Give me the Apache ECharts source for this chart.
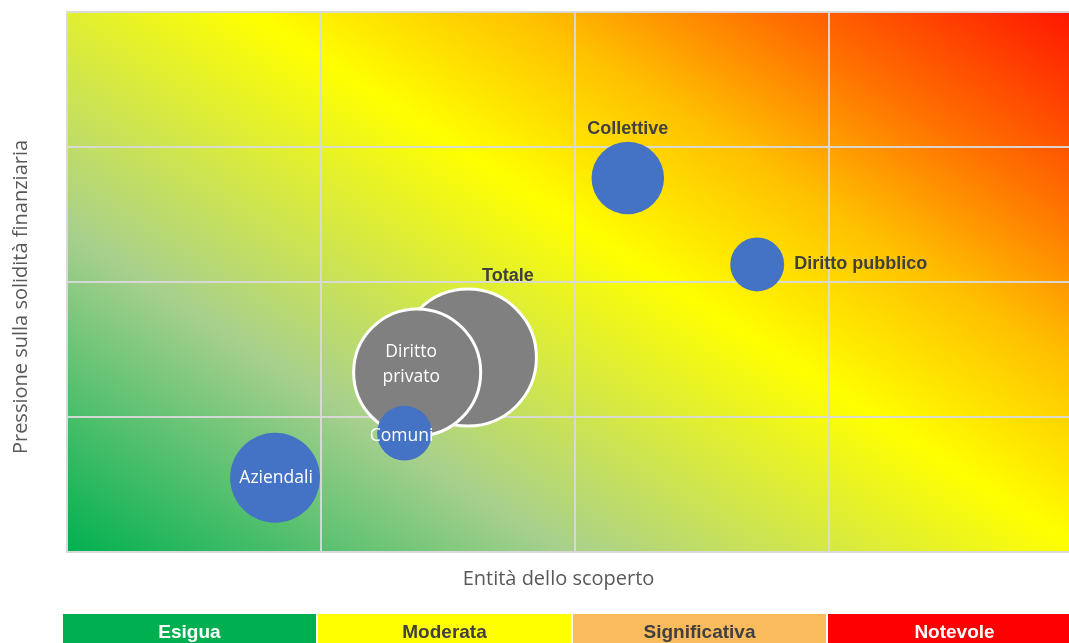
<!DOCTYPE html>
<html>
<head>
<meta charset="utf-8">
<script src="https://cdn.jsdelivr.net/npm/echarts@6/dist/echarts.min.js"></script>
<style>
  html, body { margin: 0; padding: 0; background: #fff; overflow: hidden; }
  /* il grafico originale è tagliato a destra e in basso */
  #chart { width: 1082px; height: 652px; }
</style>
</head>
<body>
<div id="chart"></div>
<script>
// dati
const grigi = ['Totale', 'Diritto privato']
const grigiX = [1.58, 1.38]
const grigiY = [1.44, 1.33]
const grigiVol = [100, 86]

const blu = ['Comuni', 'Aziendali', 'Collettive', 'Diritto pubblico']
const bluX = [1.33, 0.82, 2.21, 2.72]
const bluY = [0.88, 0.55, 2.77, 2.13]
const bluVol = [16, 43, 28, 15.5]

const livelli = ['Esigua', 'Moderata', 'Significativa', 'Notevole']
const livelliVal = [1, 1, 1, 1]

const livelliColori = ['#00B050', '#FFFF00', '#FABB5C', '#FF0000']
const livelliTesto = ['#ffffff', '#404040', '#404040', '#ffffff']

const boldFont = "'Liberation Sans', Arial, sans-serif"
const testoFont = "'Open Sans', 'Noto Sans', sans-serif"

// posizione etichette per bolla
const etichette = {
  'Totale': { position: 'top', offset: [40, 2], color: '#404040', fontWeight: 'bold', fontFamily: boldFont, fontSize: 18 },
  'Diritto privato': { position: 'inside', offset: [-6, -8], color: '#fff', fontFamily: testoFont, fontSize: 17.5, lineHeight: 25,
    formatter: () => 'Diritto\nprivato' },
  'Comuni': { position: 'inside', offset: [-3, 3], color: '#fff', fontFamily: testoFont, fontSize: 17.5 },
  'Aziendali': { position: 'inside', offset: [1, 0], color: '#fff', fontFamily: testoFont, fontSize: 17.5 },
  'Collettive': { position: 'top', distance: 4, color: '#404040', fontWeight: 'bold', fontFamily: boldFont, fontSize: 18 },
  'Diritto pubblico': { position: 'right', distance: 10, color: '#404040', fontWeight: 'bold', fontFamily: boldFont, fontSize: 18 }
}

function size(v) {
  return 137 * Math.sqrt(v / 100)
}

function punti(nomi, xs, ys, vols) {
  return nomi.map((n, i) => ({
    name: n,
    value: [xs[i], ys[i], vols[i]],
    label: Object.assign({ show: true, formatter: '{b}' }, etichette[n])
  }))
}

const chart = echarts.init(document.getElementById('chart'))

const sfondo = new echarts.graphic.LinearGradient(0, 1, 0.536, -0.561, [
  { offset: 0, color: '#00B050' },
  { offset: 0.27, color: '#A8D08D' },
  { offset: 0.55, color: '#FFFF00' },
  { offset: 0.7, color: '#FFC000' },
  { offset: 0.83, color: '#FF7000' },
  { offset: 1, color: '#FF1400' }
])

const linee = { color: 'rgba(217,217,217,0.95)', width: 2 }

const option = {
  animation: false,
  grid: [
    { left: 67, top: 12, right: 0, height: 540, show: true, backgroundColor: sfondo, borderWidth: 0 },
    { left: 62, top: 614, right: 0, height: 37 }
  ],
  xAxis: [
    {
      gridIndex: 0, type: 'value', min: 0, max: 4, interval: 1,
      name: 'Entità dello scoperto', nameLocation: 'middle', nameGap: 17,
      nameTextStyle: { color: '#595959', fontSize: 20, fontFamily: testoFont, padding: [0, 32, 0, 0] },
      axisLine: { show: true, lineStyle: linee },
      axisTick: { show: false }, axisLabel: { show: false },
      splitLine: { show: true, lineStyle: linee }
    },
    { gridIndex: 1, type: 'category', data: livelli, show: false }
  ],
  yAxis: [
    {
      gridIndex: 0, type: 'value', min: 0, max: 4, interval: 1,
      name: 'Pressione sulla solidità finanziaria', nameLocation: 'middle', nameGap: 36,
      nameTextStyle: { color: '#595959', fontSize: 20, fontFamily: testoFont, padding: [0, 30, 0, 0] },
      axisLine: { show: true, lineStyle: linee },
      axisTick: { show: false }, axisLabel: { show: false },
      splitLine: { show: true, lineStyle: linee }
    },
    { gridIndex: 1, type: 'value', min: 0, max: 1, show: false }
  ],
  series: [
    {
      name: 'Totali',
      type: 'scatter',
      xAxisIndex: 0, yAxisIndex: 0,
      data: punti(grigi, grigiX, grigiY, grigiVol),
      symbolSize: (val) => size(val[2]),
      itemStyle: { color: '#808080', borderColor: '#ffffff', borderWidth: 3, opacity: 1 }
    },
    {
      name: 'Settori',
      type: 'scatter',
      xAxisIndex: 0, yAxisIndex: 0,
      data: punti(blu, bluX, bluY, bluVol),
      symbolSize: (val) => size(val[2]),
      itemStyle: { color: '#4472C4', opacity: 1 }
    },
    {
      name: 'Livelli',
      type: 'bar',
      xAxisIndex: 1, yAxisIndex: 1,
      barWidth: 253,
      data: livelliVal.map((v, i) => ({
        value: v,
        itemStyle: { color: livelliColori[i] },
        label: { color: livelliTesto[i] }
      })),
      label: {
        show: true, position: 'inside', formatter: '{b}',
        fontFamily: boldFont, fontWeight: 'bold', fontSize: 19
      }
    }
  ]
}

chart.setOption(option)
</script>
</body>
</html>
